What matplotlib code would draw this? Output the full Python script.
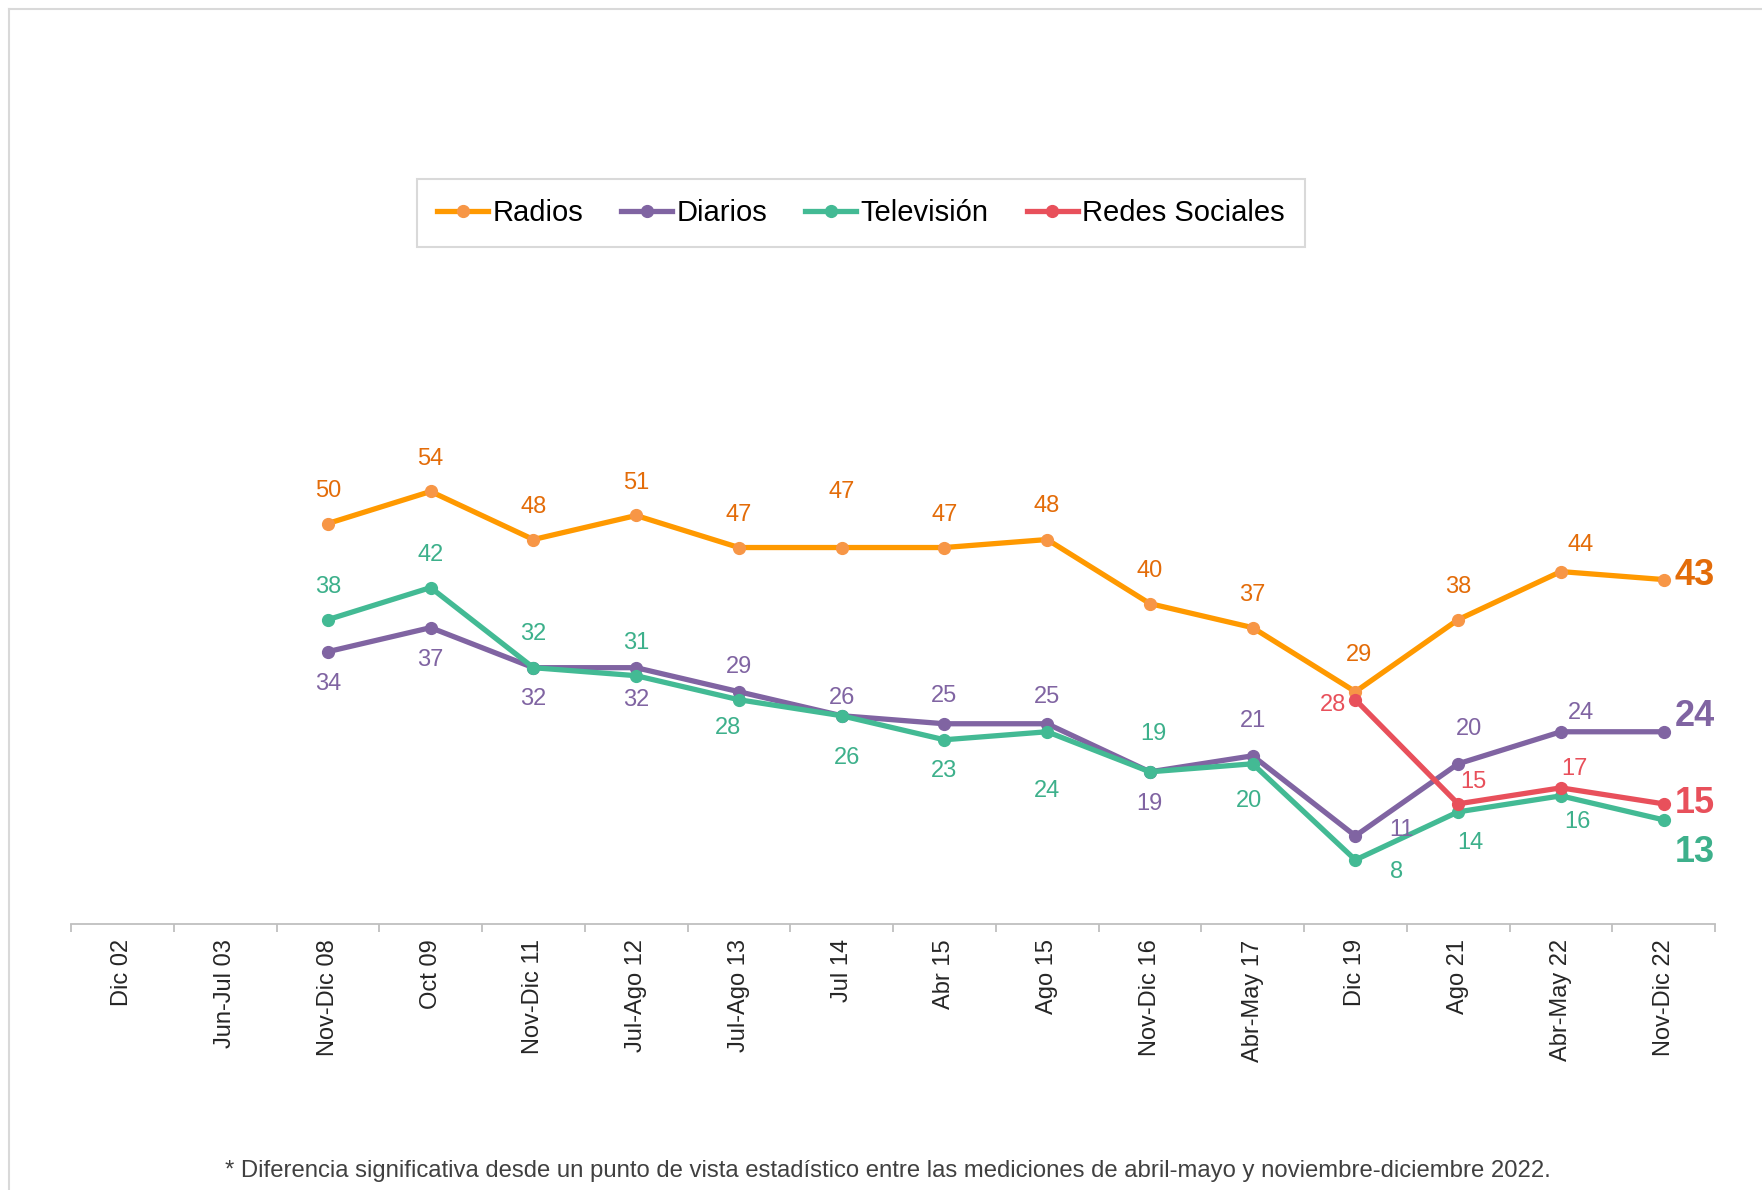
import numpy as np
import matplotlib.pyplot as plt
from matplotlib.lines import Line2D

plt.rcParams['font.family'] = ['Liberation Sans', 'DejaVu Sans']

categories = ['Dic 02', 'Jun-Jul 03', 'Nov-Dic 08', 'Oct 09', 'Nov-Dic 11', 'Jul-Ago 12',
              'Jul-Ago 13', 'Jul 14', 'Abr 15', 'Ago 15', 'Nov-Dic 16', 'Abr-May 17',
              'Dic 19', 'Ago 21', 'Abr-May 22', 'Nov-Dic 22']
radios = [None, None, 50, 54, 48, 51, 47, 47, 47, 48, 40, 37, 29, 38, 44, 43]
diarios = [None, None, 34, 37, 32, 32, 29, 26, 25, 25, 19, 21, 11, 20, 24, 24]
television = [None, None, 38, 42, 32, 31, 28, 26, 23, 24, 19, 20, 8, 14, 16, 13]
redes = [None] * 12 + [28, 15, 17, 15]

footnote = ('* Diferencia significativa desde un punto de vista estadístico entre las '
            'mediciones de abril-mayo y noviembre-diciembre 2022.')

# label offsets (px, image direction: +y down), one per point except the last
off_radios = [(0, -29)] * 5 + [(0, -49), (0, -29), (0, -30), (0, -29), (0, -29), (3, -33), (0, -29), (18, -24)]
off_diarios = [(0, 29), (0, 29), (0, 28), (0, 29), (0, -22), (0, -16), (0, -25), (0, -24),
               (0, 29), (0, -31), (41, -5), (10, -31), (18, -17)]
off_tv = [(0, -29), (0, -29), (0, -30), (0, -29), (-10, 25), (5, 38), (0, 28), (0, 53),
          (3, -34), (-3, 33), (37, 11), (11, 28), (15, 23)]
off_redes = [(-20, 5), (14, -19), (12, -17)]
end_dy = {'Radios': -4, 'Diarios': -14, 'Redes Sociales': 0, 'Televisión': 29}

S = 1762 / 1568

series = [
    ('Radios', radios, '#FF9900', '#F79646', '#E36C09', off_radios),
    ('Diarios', diarios, '#8064A2', '#8064A2', '#8064A2', off_diarios),
    ('Televisión', television, '#43BA94', '#43BA94', '#3DB08B', off_tv),
    ('Redes Sociales', redes, '#E8505B', '#E8505B', '#E8505B', off_redes),
]

fig = plt.figure(figsize=(17.62, 11.90), dpi=100)
ax = fig.add_axes([71 / 1762, (1190 - 924) / 1190, (1715 - 71) / 1762, 801 / 1190])

x = np.arange(len(categories))
handles = []
for z, (name, vals, lc, mc, tc, offs) in enumerate(series):
    y = np.array([np.nan if v is None else v for v in vals], dtype=float)
    ax.plot(x, y, color=lc, lw=3.8, marker='o', ms=8.5, mfc=mc, mec=mc, zorder=3 + z,
            solid_capstyle='round')
    handles.append(Line2D([], [], color=lc, lw=3.8, marker='o', ms=8.5, mfc=mc, mec=mc))
    idx = [i for i in range(len(vals)) if vals[i] is not None]
    for i, (dx, dy) in zip(idx[:-1], offs):
        ax.annotate(str(vals[i]), (x[i], vals[i]), xytext=(dx * S, -dy * S),
                    textcoords='offset pixels', ha='center', va='center',
                    fontsize=17, color=tc, zorder=10)
    last = idx[-1]
    ax.annotate(str(vals[last]), (x[last], vals[last]), xytext=(11, -end_dy[name] * S),
                textcoords='offset pixels', ha='left', va='center',
                fontsize=26, fontweight='bold', color=tc, zorder=10)

ax.set_xlim(-0.5, len(categories) - 0.5)
ax.set_ylim(0, 100)
ax.set_yticks([])
for s in ['left', 'top', 'right']:
    ax.spines[s].set_visible(False)
ax.spines['bottom'].set_color('#BFBFBF')
ax.spines['bottom'].set_linewidth(1.3)
ax.set_xticks(x)
ax.set_xticklabels(categories, rotation=90, fontsize=17, color='#262626')
ax.set_xticks(np.arange(-0.5, len(categories)), minor=True)
ax.tick_params(axis='x', which='major', length=0, pad=11)
ax.tick_params(axis='x', which='minor', length=6, color='#BFBFBF', width=1.3)

leg = ax.legend(handles, [s[0] for s in series], loc='center',
                bbox_to_anchor=(861 / 1762, 1 - 213 / 1190), bbox_transform=fig.transFigure,
                ncol=4, fancybox=False, edgecolor='#D9D9D9', framealpha=1,
                handlelength=1.75, handletextpad=0.15, columnspacing=1.3,
                borderpad=0.7, numpoints=1, fontsize=21)
leg.get_frame().set_linewidth(1.5)

fig.text(888 / 1762, 1 - 1171 / 1190, footnote, ha='center', va='center', fontsize=17.2,
         color='#404040')

# outer frame (left and top edges visible)
fig.add_artist(Line2D([9 / 1762, 9 / 1762], [0, 1 - 9 / 1190], color='#D9D9D9', lw=1.5))
fig.add_artist(Line2D([9 / 1762, 1], [1 - 9 / 1190, 1 - 9 / 1190], color='#D9D9D9', lw=1.5))

fig.savefig('out.png', dpi=100, facecolor='white')
